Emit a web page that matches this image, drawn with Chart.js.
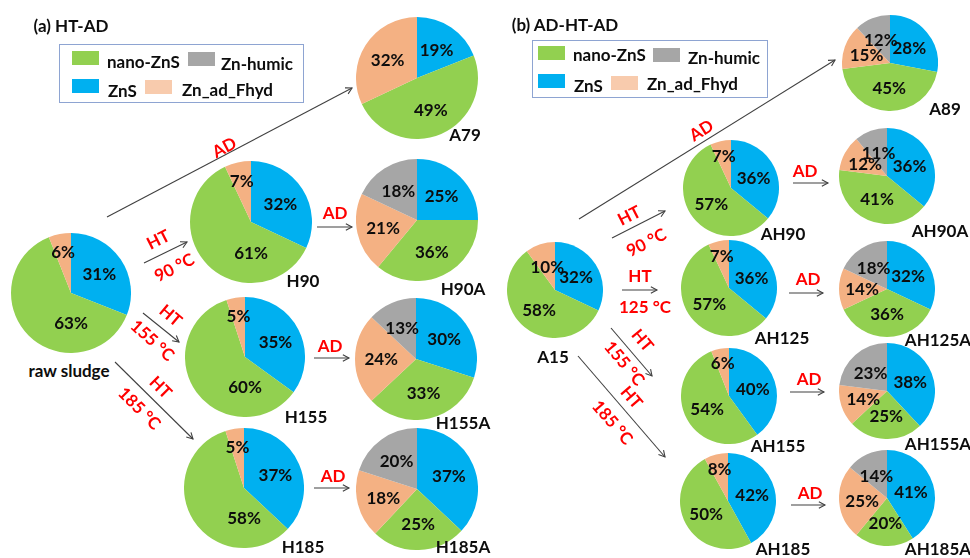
<!DOCTYPE html>
<html>
<head>
<meta charset="utf-8">
<script src="https://cdn.jsdelivr.net/npm/chart.js@4.4.1/dist/chart.umd.min.js"></script>
<style>
  html, body { margin: 0; padding: 0; background: #fff; }
  #stage { position: relative; width: 970px; height: 558px; overflow: hidden;
           font-family: Lato, "Open Sans", sans-serif; font-weight: 700; }
  .t { position: absolute; white-space: nowrap; font-size: 17px; line-height: 1; color: #0d0d0d; }
  .red { color: #ff0000; }
  canvas.pie { position: absolute; }
  svg { position: absolute; left: 0; top: 0; }
  .box { position: absolute; border: 1.5px solid #8ea4d2; box-sizing: border-box; }
  .sw { position: absolute; }
  .lt { position: absolute; font-size: 17px; line-height: 1; transform: translateY(-50%); color: #0d0d0d; white-space: nowrap; }
</style>
</head>
<body>
<div id="stage"></div>
<script>
// Zn species (order of slices, clockwise from 12 o'clock)
const seriesNames = ['ZnS', 'nano-ZnS', 'Zn_ad_Fhyd', 'Zn-humic'];
const seriesColors = ['#00b0f0', '#92d050', '#f4b183', '#a6a6a6'];

// (a) HT-AD
const samplesA = ['raw sludge', 'A79', 'H90', 'H90A', 'H155', 'H155A', 'H185', 'H185A'];
const znsA   = [31, 19, 32, 25, 35, 30, 37, 37];
const nanoA  = [63, 49, 61, 36, 60, 33, 58, 25];
const fhydA  = [ 6, 32,  7, 21,  5, 24,  5, 18];
const humicA = [ 0,  0,  0, 18,  0, 13,  0, 20];

// (b) AD-HT-AD
const samplesB = ['A15', 'A89', 'AH90', 'AH90A', 'AH125', 'AH125A', 'AH155', 'AH155A', 'AH185', 'AH185A'];
const znsB   = [32, 28, 36, 36, 36, 32, 40, 38, 42, 41];
const nanoB  = [58, 45, 57, 41, 57, 36, 54, 25, 50, 20];
const fhydB  = [10, 15,  7, 12,  7, 14,  6, 14,  8, 25];
const humicB = [ 0, 12,  0, 11,  0, 18,  0, 23,  0, 14];

// pie placement: centre x, centre y, radius, sample-name x, sample-name y
const layoutA = [
  [71, 293, 60, 69, 370],
  [417, 78, 61, 465, 134],
  [251, 222, 61, 303, 280],
  [417, 220, 61, 463, 288],
  [245, 357, 60, 306, 416],
  [416, 359, 61, 463, 422],
  [244, 488, 60, 303, 546],
  [417, 489, 61, 463, 546]
];
const layoutB = [
  [555, 290, 48, 553, 356],
  [890, 63, 48, 945, 108],
  [731, 188, 48, 783, 233],
  [887, 176, 48, 940, 230],
  [729, 288, 48, 782, 337],
  [887, 289, 48, 938, 339],
  [729, 396, 48, 778, 445],
  [887, 391, 48, 938, 443],
  [728, 501, 48, 783, 548],
  [887, 498, 48, 938, 548]
];

// process arrows: x1, y1, x2, y2
const arrows = [
  [107, 217, 352, 88], [144, 263, 187, 242], [143, 313, 179, 342], [115, 362, 193, 439],
  [317, 227, 352, 227], [314, 358, 349, 358], [314, 488, 349, 488],
  [579, 219, 835, 60], [612, 238, 665, 211], [622, 290, 657, 290], [611, 328, 652, 376], [578, 356, 665, 457],
  [793, 183, 828, 183], [789, 293, 823, 293], [790, 392, 824, 392], [791, 505, 825, 505]
];
// process step labels: text, x, y, rotation (deg)
const steps = [
  ['AD', 224, 147, -28], ['HT', 158, 239, -27], ['90 °C', 174, 267, -27],
  ['HT', 171, 315, 40], ['155 °C', 153, 340, 42], ['HT', 161, 387, 45], ['185 °C', 140, 408, 45],
  ['AD', 335, 212, 0], ['AD', 330, 345, 0], ['AD', 333, 475, 0],
  ['AD', 701, 130, -32], ['HT', 629, 215, -27], ['90 °C', 646, 242, -27],
  ['HT', 640, 275, 0], ['125 °C', 645, 306, 0],
  ['HT', 643, 340, 50], ['155 °C', 625, 363, 50], ['HT', 632, 397, 49], ['185 °C', 613, 422, 49],
  ['AD', 805, 170, 0], ['AD', 808, 278, 0], ['AD', 809, 378, 0], ['AD', 810, 492, 0]
];

const stage = document.getElementById('stage');

function addText(txt, x, y, cls, rot) {
  const d = document.createElement('div');
  d.className = 't ' + (cls || '');
  d.textContent = txt;
  d.style.left = x + 'px';
  d.style.top = y + 'px';
  d.style.transform = 'translate(-50%,-50%) rotate(' + (rot || 0) + 'deg)';
  stage.appendChild(d);
}

// percentage labels inside each slice
const pctLabels = {
  id: 'pctLabels',
  afterDatasetsDraw(chart, args, opts) {
    const ctx = chart.ctx;
    const meta = chart.getDatasetMeta(0);
    const vals = chart.data.datasets[0].data;
    ctx.save();
    ctx.font = 'bold 17px Lato, "Open Sans", sans-serif';
    ctx.fillStyle = '#0d0d0d';
    ctx.textAlign = 'center';
    ctx.textBaseline = 'middle';
    meta.data.forEach((arc, i) => {
      const v = vals[i];
      if (!v) return;
      const p = arc.getProps(['x', 'y', 'startAngle', 'endAngle', 'outerRadius'], true);
      let a = (p.startAngle + p.endAngle) / 2;
      let f = opts.mid;
      if (v < 10) f = 0.7;
      else if (v > 50 && opts.bigDown) { a = Math.PI / 2; f = 0.5; }
      ctx.fillText(v + '%', p.x + Math.cos(a) * f * p.outerRadius, p.y + Math.sin(a) * f * p.outerRadius + 1);
    });
    ctx.restore();
  }
};

function makePie(values, lay, name, panelOpts) {
  const [cx, cy, r, nx, ny] = lay;
  const cv = document.createElement('canvas');
  cv.className = 'pie';
  cv.width = 2 * r; cv.height = 2 * r;
  cv.style.left = (cx - r) + 'px';
  cv.style.top = (cy - r) + 'px';
  stage.appendChild(cv);
  new Chart(cv, {
    type: 'pie',
    data: {
      labels: seriesNames,
      datasets: [{ data: values, backgroundColor: seriesColors, borderWidth: 0, hoverOffset: 0, offset: 0 }]
    },
    options: {
      responsive: false,
      animation: false,
      events: [],
      layout: { padding: 0 },
      plugins: { legend: { display: false }, tooltip: { enabled: false }, pctLabels: panelOpts }
    },
    plugins: [pctLabels]
  });
  addText(name, nx, ny, '', 0);
}

samplesA.forEach((s, i) => makePie([znsA[i], nanoA[i], fhydA[i], humicA[i]], layoutA[i], s, { mid: 0.57, bigDown: true }));
samplesB.forEach((s, i) => makePie([znsB[i], nanoB[i], fhydB[i], humicB[i]], layoutB[i], s, { mid: 0.52, bigDown: false }));

// arrows
const NS = 'http://www.w3.org/2000/svg';
const svg = document.createElementNS(NS, 'svg');
svg.setAttribute('width', 970); svg.setAttribute('height', 558);
arrows.forEach(([x1, y1, x2, y2]) => {
  const ln = document.createElementNS(NS, 'line');
  ln.setAttribute('x1', x1); ln.setAttribute('y1', y1); ln.setAttribute('x2', x2); ln.setAttribute('y2', y2);
  ln.setAttribute('stroke', '#404040'); ln.setAttribute('stroke-width', 1.1);
  svg.appendChild(ln);
  const ang = Math.atan2(y2 - y1, x2 - x1), L = 7, w = 0.5;
  const pts = [
    [x2 - L * Math.cos(ang - w), y2 - L * Math.sin(ang - w)],
    [x2, y2],
    [x2 - L * Math.cos(ang + w), y2 - L * Math.sin(ang + w)]
  ];
  const pl = document.createElementNS(NS, 'polyline');
  pl.setAttribute('points', pts.map(p => p.join(',')).join(' '));
  pl.setAttribute('fill', 'none'); pl.setAttribute('stroke', '#404040'); pl.setAttribute('stroke-width', 1.1);
  svg.appendChild(pl);
});
stage.appendChild(svg);

steps.forEach(([t, x, y, r]) => addText(t, x, y, 'red', r));

// panel titles
addText('(a)  HT-AD', 71, 25, '', 0);
addText('(b)  AD-HT-AD', 565, 24, '', 0);

// legends
const legendColors = { 'nano-ZnS': '#92d050', 'Zn-humic': '#a6a6a6', 'ZnS': '#00b0f0', 'Zn_ad_Fhyd': '#f8cbad' };
function legend(box, items) {
  const b = document.createElement('div');
  b.className = 'box';
  b.style.left = box[0] + 'px'; b.style.top = box[1] + 'px';
  b.style.width = (box[2] - box[0]) + 'px'; b.style.height = (box[3] - box[1]) + 'px';
  stage.appendChild(b);
  items.forEach(([name, sx, sy, tx, ty]) => {
    const s = document.createElement('div');
    s.className = 'sw';
    s.style.left = sx + 'px'; s.style.top = sy + 'px';
    s.style.width = '27px'; s.style.height = '14px';
    s.style.background = legendColors[name];
    stage.appendChild(s);
    const t = document.createElement('div');
    t.className = 'lt';
    t.textContent = name;
    t.style.left = tx + 'px'; t.style.top = ty + 'px';
    stage.appendChild(t);
  });
}
legend([59, 44, 304, 103], [
  ['nano-ZnS', 72, 51, 107, 61], ['Zn-humic', 188, 52, 221, 63],
  ['ZnS', 72, 79, 108, 90], ['Zn_ad_Fhyd', 145, 80, 182, 89]
]);
legend([532, 40, 768, 98], [
  ['nano-ZnS', 538, 46, 573, 54], ['Zn-humic', 653, 48, 688, 57],
  ['ZnS', 538, 74, 574, 85], ['Zn_ad_Fhyd', 611, 76, 647, 83]
]);
</script>
</body>
</html>
